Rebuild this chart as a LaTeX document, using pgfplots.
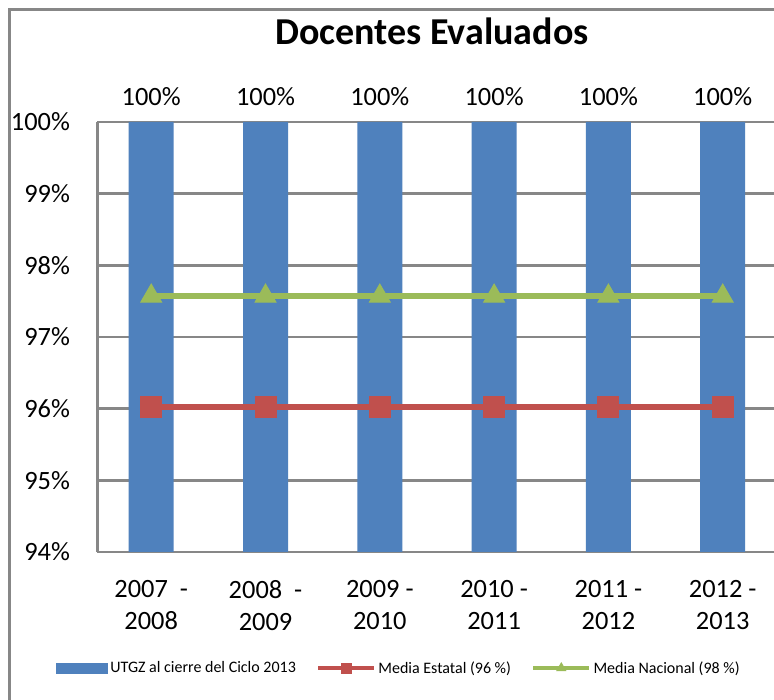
\documentclass[border=0pt]{standalone}
\usepackage{pgfplots}
\pgfplotsset{compat=1.18}
\usepackage{fontspec}
\setmainfont{Carlito}
\definecolor{barblue}{HTML}{4F81BD}
\definecolor{lred}{HTML}{C0504D}
\definecolor{lgreen}{HTML}{9BBB59}
\definecolor{gridgray}{HTML}{878787}
\pgfplotsset{
  mylineleg/.style={legend image code/.code={\draw[##1, line width=4.5pt, mark size=5pt, mark repeat=2, mark phase=2] plot coordinates {(0pt,0pt) (28pt,0pt) (56pt,0pt)};}},
  mybarleg/.style={legend image code/.code={\fill[barblue] (0pt,-5.5pt) rectangle (52pt,5.5pt);}},
}
\begin{document}
\begin{tikzpicture}
\useasboundingbox (0pt,0pt) rectangle (774pt,700pt);
\clip (0pt,0pt) rectangle (774pt,700pt);
\fill[white] (0pt,0pt) rectangle (774pt,700pt);
\draw[gridgray, line width=3pt] (9.5pt,0pt) -- (9.5pt,690pt) -- (774pt,690pt);
\begin{axis}[
  at={(97.5pt,148pt)}, anchor=south west,
  scale only axis, width=693.8pt, height=430pt,
  xmin=-0.47, xmax=5.6, ymin=94, ymax=100,
  axis x line*=bottom, axis y line*=left,
  /pgf/number format/assume math mode=true,
  ytick={94,95,96,97,98,99,100},
  yticklabels={94\%,95\%,96\%,97\%,98\%,99\%,100\%},
  xtick={0,1,2,3,4,5},
  xticklabels={{2007\ \ -\\2008},{2008\ \ -\\2009},{2009 -\\2010},{2010 -\\2011},{2011 -\\2012},{2012 -\\2013}},
  yticklabel style={font=\fontsize{26.4}{32}\selectfont, xshift=-24pt},
  xticklabel style={font=\fontsize{26.4}{32}\selectfont, align=center, yshift=-25pt},
  major tick length=0pt,
  ymajorgrids,
  grid style={draw=gridgray, line width=2.5pt},
  axis line style={draw=gridgray, line width=2.5pt, -},
  clip=false,
  title={\textbf{Docentes Evaluados}},
  title style={font=\fontsize{38}{44}\selectfont, anchor=base, at={(axis description cs:0.482,1.1674)}},
  legend columns=3,
  legend style={at={(axis description cs:0.4347,-0.2698)}, anchor=center, draw=none, fill=none,
    font=\fontsize{16}{19}\selectfont,
    /tikz/every even column/.append style={column sep=18pt}},
]
\addplot[ybar, bar width=45pt, fill=barblue, draw=none,
  nodes near coords={100\%},
  nodes near coords style={font=\fontsize{26.4}{32}\selectfont, anchor=center, yshift=25.5pt, text=black},
  mybarleg]
  coordinates {(0,100) (1,100) (2,100) (3,100) (4,100) (5,100)};
\addlegendentry{UTGZ al cierre del Ciclo 2013}
\addplot[color=lred, line width=5.5pt, mark=square*, mark size=10.5pt,
  mark options={solid, line width=1pt, fill=lred}, mylineleg]
  coordinates {(0,96.02) (1,96.02) (2,96.02) (3,96.02) (4,96.02) (5,96.02)};
\addlegendentry{Media Estatal (96 \%)}
\addplot[color=lgreen, line width=5.5pt, mark=triangle*, mark size=12pt,
  mark options={solid, line width=1pt, fill=lgreen}, mylineleg]
  coordinates {(0,97.57) (1,97.57) (2,97.57) (3,97.57) (4,97.57) (5,97.57)};
\addlegendentry{Media Nacional (98 \%)}
\end{axis}
\end{tikzpicture}
\end{document}
